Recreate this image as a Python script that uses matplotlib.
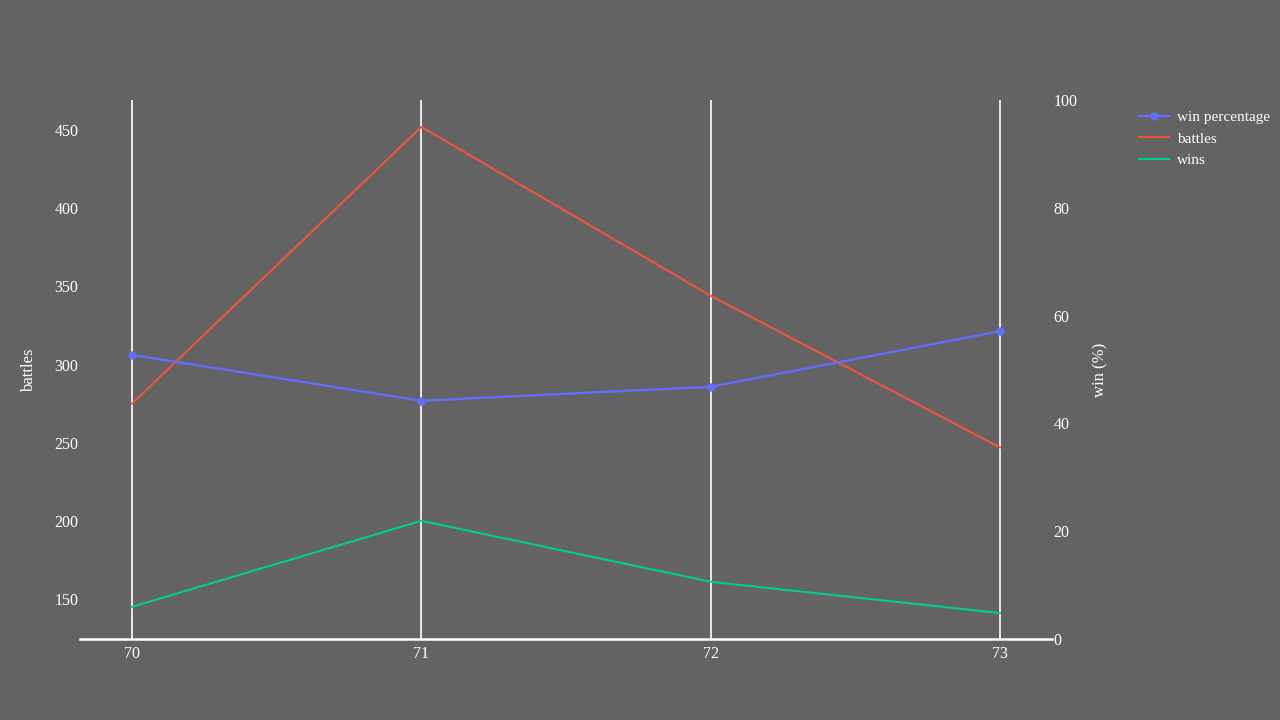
import matplotlib.pyplot as plt
from matplotlib.lines import Line2D

# data
tiers = [70, 71, 72, 73]
battles = [275, 452, 344, 247]
wins = [145, 200, 161, 141]
win_pct = [52.7, 44.2, 46.8, 57.1]

bg = '#636363'
fg = 'white'
plt.rcParams['font.family'] = ['Liberation Serif', 'DejaVu Serif']
plt.rcParams['font.size'] = 11.5

fig = plt.figure(figsize=(12.8, 7.2), dpi=100, facecolor=bg)
ax = fig.add_axes([0.0625, 0.1125, 0.7594, 0.7486])
ax.set_facecolor(bg)
ax2 = ax.twinx()

ax.plot(tiers, battles, color='#EF553B', lw=1.5, label='battles')
ax.plot(tiers, wins, color='#00CC96', lw=1.5, label='wins')
ax2.plot(tiers, win_pct, color='#636EFA', lw=1.7, marker='o', ms=5, label='win percentage')

ax.set_xlim(69.82, 73.18)
ax.set_ylim(124.4, 469.2)
ax2.set_ylim(0, 100)
ax.set_xticks(tiers)
ax.set_yticks([150, 200, 250, 300, 350, 400, 450])
ax2.set_yticks([0, 20, 40, 60, 80, 100])

ax.grid(axis='x', color=fg, lw=1.2)
ax.set_axisbelow(True)
for a in (ax, ax2):
    for s in a.spines.values():
        s.set_visible(False)
    a.tick_params(colors=fg, length=0)
ax.spines['bottom'].set_visible(True)
ax.spines['bottom'].set_color(fg)
ax.spines['bottom'].set_linewidth(1.8)
ax.tick_params(axis='x', pad=5)
ax.tick_params(axis='y', pad=1)
ax2.tick_params(axis='y', pad=1)

ax.set_ylabel('battles', color=fg, fontsize=12)
ax2.set_ylabel('win (%)', color=fg, fontsize=12, rotation=90)
ax.yaxis.set_label_coords(-0.044, 0.5)
ax2.yaxis.set_label_coords(1.042, 0.5)

handles = [
    Line2D([], [], color='#636EFA', lw=1.7, marker='o', ms=5),
    Line2D([], [], color='#EF553B', lw=1.5),
    Line2D([], [], color='#00CC96', lw=1.5),
]
leg = fig.legend(handles, ['win percentage', 'battles', 'wins'],
                 loc='upper left', bbox_to_anchor=(0.885, 0.855),
                 frameon=False, labelcolor=fg, handlelength=2.0,
                 handletextpad=0.5, labelspacing=0.5, fontsize=11,
                 borderaxespad=0)

fig.savefig('out.png', facecolor=bg)
